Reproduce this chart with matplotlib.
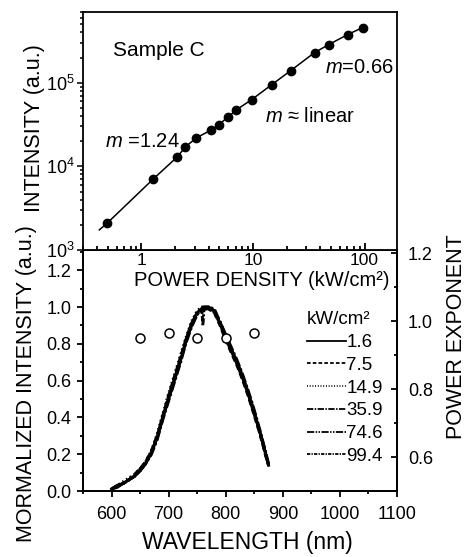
import matplotlib
matplotlib.use("Agg")
import matplotlib.pyplot as plt
from matplotlib.ticker import FixedLocator, FixedFormatter, MultipleLocator, LogLocator, NullFormatter

plt.rcParams['font.family'] = ['Liberation Sans', 'DejaVu Sans']
plt.rcParams['mathtext.fontset'] = 'custom'
plt.rcParams['mathtext.rm'] = 'Liberation Sans'
plt.rcParams['mathtext.it'] = 'Liberation Sans:italic'
plt.rcParams['axes.linewidth'] = 1.3

# ---- top panel: integrated intensity vs excitation power density (log-log)
power_density = [0.495, 1.28, 2.10, 2.48, 3.11, 4.24, 4.91, 6.03, 7.11, 9.70,
                 14.7, 21.7, 35.6, 47.6, 70.4, 96.0]
intensity = [2.1e3, 7.07e3, 1.30e4, 1.71e4, 2.19e4, 2.73e4, 3.14e4, 3.92e4, 4.75e4,
             6.25e4, 9.46e4, 1.39e5, 2.29e5, 2.85e5, 3.76e5, 4.56e5]
# guide line starts a bit below the first point
line_power = [0.42] + power_density
line_intensity = [1.74e3] + intensity

# ---- bottom panel: normalized spectra for each power density
wavelength = [600, 610, 620, 630, 640, 650, 660, 670, 680, 690, 700, 710, 720, 730, 740,
              750, 758, 760, 762, 770, 780, 790, 800, 810, 820, 830, 840, 850, 860, 870, 875]
spec_1_6 = [0.01, 0.03, 0.04, 0.06, 0.08, 0.11, 0.15, 0.21, 0.29, 0.40, 0.50, 0.60, 0.70, 0.81, 0.90,
            0.97, 0.99, 1.00, 1.00, 1.00, 0.98, 0.91, 0.83, 0.76, 0.69, 0.61, 0.52, 0.42, 0.32, 0.20, 0.14]
spec_7_5 = [0.01, 0.03, 0.04, 0.06, 0.09, 0.12, 0.16, 0.22, 0.30, 0.41, 0.52, 0.62, 0.72, 0.82, 0.91,
            0.97, 0.99, 0.99, 1.00, 0.99, 0.97, 0.90, 0.82, 0.75, 0.68, 0.60, 0.51, 0.41, 0.31, 0.19, 0.14]
spec_14_9 = [0.01, 0.03, 0.05, 0.07, 0.09, 0.12, 0.16, 0.22, 0.31, 0.42, 0.53, 0.63, 0.73, 0.83, 0.92,
             0.98, 1.00, 0.99, 0.99, 0.99, 0.97, 0.91, 0.84, 0.77, 0.70, 0.62, 0.53, 0.43, 0.32, 0.21, 0.15]
spec_35_9 = [0.01, 0.02, 0.04, 0.06, 0.08, 0.11, 0.15, 0.20, 0.28, 0.39, 0.49, 0.59, 0.69, 0.80, 0.89,
             0.96, 0.99, 0.99, 1.00, 1.00, 0.99, 0.92, 0.85, 0.78, 0.71, 0.63, 0.54, 0.44, 0.33, 0.21, 0.15]
spec_74_6 = [0.01, 0.03, 0.04, 0.06, 0.08, 0.11, 0.15, 0.21, 0.29, 0.40, 0.51, 0.61, 0.71, 0.81, 0.90,
             0.96, 0.98, 0.99, 0.99, 0.99, 0.98, 0.92, 0.84, 0.77, 0.70, 0.62, 0.53, 0.43, 0.32, 0.20, 0.14]
spec_99_4 = [0.01, 0.03, 0.04, 0.06, 0.08, 0.12, 0.16, 0.21, 0.30, 0.41, 0.51, 0.61, 0.71, 0.82, 0.91,
             0.97, 0.99, 0.90, 0.99, 1.00, 0.98, 0.91, 0.83, 0.76, 0.69, 0.61, 0.52, 0.42, 0.31, 0.20, 0.14]
spectra = [spec_1_6, spec_7_5, spec_14_9, spec_35_9, spec_74_6, spec_99_4]
spec_labels = ['1.6', '7.5', '14.9', '35.9', '74.6', '99.4']

# power exponent (right axis)
exp_wavelength = [650, 700, 750, 800, 850]
exponent = [0.95, 0.965, 0.95, 0.95, 0.965]

W, H = 471, 557
def fx(px):
    return px / W
def fy(py):
    return 1 - py / H

fig = plt.figure(figsize=(W / 100, H / 100), dpi=100)

# bottom panel (added first so the top panel's labels are drawn over it)
ax_b = fig.add_axes([fx(83), fy(491), fx(397) - fx(83), fy(250) - fy(491)])
ax_b.set_facecolor('none')
styles = ['-', (0, (2.0, 1.2)), (0, (0.5, 1.0)), (0, (3.5, 0.8, 0.8, 0.8)),
          (0, (4, 0.8, 0.8, 0.8, 0.8, 0.8)), (0, (1.8, 0.7, 0.7, 0.7))]
for ys, lab, ls in zip(spectra, spec_labels, styles):
    ax_b.plot(wavelength, ys, color='k', lw=2.1, linestyle=ls, label=lab)
ax_b.set_xlim(550, 1100)
ax_b.set_ylim(0, 1.31)
ax_b.xaxis.set_major_locator(FixedLocator([600, 700, 800, 900, 1000, 1100]))
ax_b.xaxis.set_minor_locator(MultipleLocator(50))
ax_b.yaxis.set_major_locator(FixedLocator([0.0, 0.2, 0.4, 0.6, 0.8, 1.0, 1.2]))
ax_b.yaxis.set_minor_locator(MultipleLocator(0.1))
ax_b.yaxis.set_major_formatter(FixedFormatter(['0.0', '0.2', '0.4', '0.6', '0.8', '1.0', '1.2']))
ax_b.tick_params(which='both', direction='out', top=False, right=False, width=1.3, labelsize=13)
ax_b.tick_params(which='major', length=4.5, pad=4)
ax_b.tick_params(which='minor', length=2.5)
ax_b.tick_params(axis='x', which='major', pad=6)

leg = ax_b.legend(title='kW/cm²', fontsize=13.5, title_fontsize=13.5, alignment='left',
                  handlelength=2.1, handletextpad=0, borderpad=0, borderaxespad=0,
                  labelspacing=0.3, frameon=False, loc='upper left',
                  bbox_to_anchor=(0.713, 0.745))
for line in leg.get_lines():
    line.set_linewidth(1.3)

ax_r = ax_b.twinx()
ax_r.plot(exp_wavelength, exponent, 'o', mfc='white', mec='k', ms=6.5, mew=1.1)
ax_r.set_ylim(0.5, 1.21)
ax_r.yaxis.set_major_locator(FixedLocator([0.6, 0.8, 1.0, 1.2]))
ax_r.yaxis.set_minor_locator(MultipleLocator(0.1))
ax_r.yaxis.set_major_formatter(FixedFormatter(['0.6', '0.8', '1.0', '1.2']))
ax_r.tick_params(which='both', direction='in', width=1.3, labelsize=13)
ax_r.tick_params(which='major', length=4.5, pad=8)
ax_r.tick_params(which='minor', length=2.5)

# top panel
ax_t = fig.add_axes([fx(83), fy(250), fx(397) - fx(83), fy(12) - fy(250)])
ax_t.plot(line_power, line_intensity, color='k', lw=1.1)
ax_t.plot(power_density, intensity, 'o', color='k', ms=6)
ax_t.set_xscale('log')
ax_t.set_yscale('log')
ax_t.set_xlim(0.3, 195)
ax_t.set_ylim(1e3, 7e5)
ax_t.xaxis.set_major_locator(FixedLocator([1, 10, 100]))
ax_t.xaxis.set_major_formatter(FixedFormatter(['1', '10', '100']))
ax_t.xaxis.set_minor_locator(LogLocator(base=10, subs=range(2, 10), numticks=20))
ax_t.xaxis.set_minor_formatter(NullFormatter())
ax_t.yaxis.set_major_locator(FixedLocator([1e3, 1e4, 1e5]))
ax_t.yaxis.set_major_formatter(FixedFormatter(['$10^3$', '$10^4$', '$10^5$']))
ax_t.yaxis.set_minor_locator(LogLocator(base=10, subs=range(2, 10), numticks=20))
ax_t.yaxis.set_minor_formatter(NullFormatter())
ax_t.tick_params(axis='x', which='major', direction='in', top=False, width=1.3,
                 length=5, labelsize=12.5, pad=2)
ax_t.tick_params(axis='x', which='minor', direction='in', top=False, width=1.3, length=3)
ax_t.tick_params(axis='y', which='both', direction='out', right=False, width=1.1, labelsize=13, pad=2)
ax_t.tick_params(axis='y', which='major', length=4)
ax_t.tick_params(axis='y', which='minor', length=2.5)

ax_t.text(0.096, 0.84, 'Sample C', transform=ax_t.transAxes, fontsize=15, va='center', ha='left')
ax_t.text(0.07, 0.454, '$m$ =1.24', transform=ax_t.transAxes, fontsize=14.5, va='center', ha='left')
ax_t.text(0.771, 0.765, '$m$=0.66', transform=ax_t.transAxes, fontsize=14.5, va='center', ha='left')
ax_t.text(0.58, 0.559, '$m$ ≈ linear', transform=ax_t.transAxes, fontsize=14.5, va='center', ha='left')

# axis titles
fig.text(fx(262), fy(280), 'POWER DENSITY (kW/cm²)', fontsize=14.5, ha='center', va='center')
fig.text(fx(247), fy(542), 'WAVELENGTH (nm)', fontsize=16.5, ha='center', va='center')
fig.text(fx(35), fy(128), 'INTENSITY (a.u.)', fontsize=15.5, rotation=90, ha='center', va='center')
fig.text(fx(27), fy(384), 'MORMALIZED INTENSITY (a.u.)', fontsize=15.5, rotation=90, ha='center', va='center')
fig.text(fx(457), fy(337), 'POWER EXPONENT', fontsize=15.5, rotation=90, ha='center', va='center')

fig.savefig('out.png', dpi=100)
